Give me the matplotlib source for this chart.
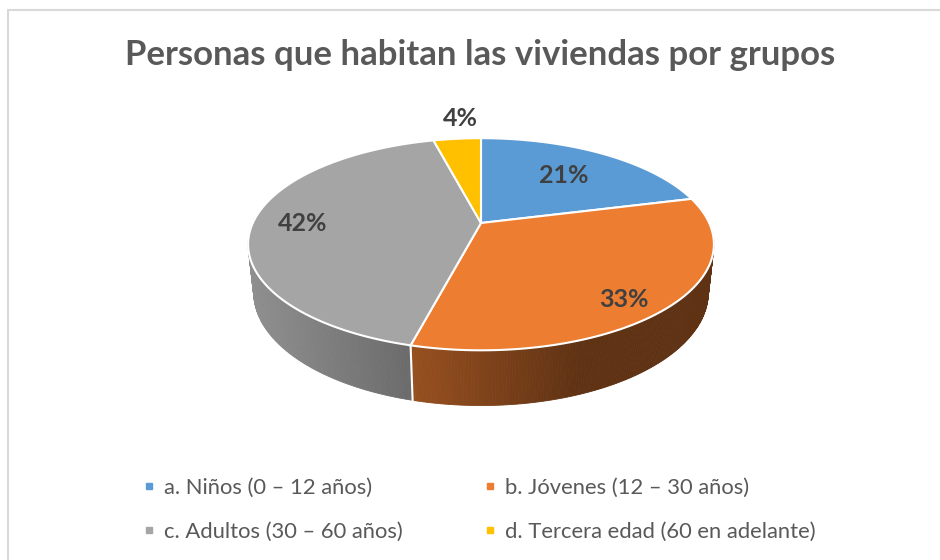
import numpy as np
import matplotlib
matplotlib.use('Agg')
import matplotlib.pyplot as plt
from matplotlib.patches import Polygon, Rectangle
from matplotlib.lines import Line2D

plt.rcParams['font.family'] = ['Lato', 'DejaVu Sans']

# data
labels = ['a. Niños (0 – 12 años)', 'b. Jóvenes (12 – 30 años)',
          'c. Adultos (30 – 60 años)', 'd. Tercera edad (60 en adelante)']
values = [21, 33, 42, 4]
colors = ['#5B9BD5', '#ED7D31', '#A5A5A5', '#FFC000']
title = 'Personas que habitan las viviendas por grupos'

# 3d look: camera tilt, distance, pie thickness (radius = 1)
phi = np.radians(26.5)
D = 4.47
h = 0.2375
c, s = np.cos(phi), np.sin(phi)

def project(theta, r=1.0, z=0.0):
    X = r*np.cos(theta)
    Y = r*np.sin(theta)
    depth = D + c*Y - s*z
    return X/depth, (s*Y + c*z)/depth, depth

# side shading per slice (light factor at left, dark factor, fraction of width to reach dark)
shade = [(0.70, 0.50, 1.0), (0.64, 0.40, 0.56), (0.87, 0.65, 1.0), (0.70, 0.50, 1.0)]
# label placement: radius and angle shift (deg) from the slice middle
lbl_r = [0.65, 0.85, 0.78, 1.3]
lbl_da = [0, -5, 0, -2.2]

frac = np.array(values)/np.sum(values)
bounds = np.radians(90 - 360*np.concatenate([[0], np.cumsum(frac)]))

fig = plt.figure(figsize=(9.4, 5.6), dpi=100)
ax = fig.add_axes([0, 0, 1, 1])
k = 1020.0
ax.set_xlim(-481/k, 459/k)
ax.set_ylim(-337/k, 223/k)
ax.axis('off')

# side walls, far strips first
strips = []
for i in range(len(values)):
    th = np.linspace(bounds[i], bounds[i+1], 200)
    th = th[np.sin(th) < 0.15]
    if len(th) < 2:
        continue
    xs = project(th)[0]
    x0, x1 = xs.min(), xs.max()
    base = np.array(matplotlib.colors.to_rgb(colors[i]))
    f0, f1, span = shade[i]
    for a, b in zip(th[:-1], th[1:]):
        xa, ya, da = project(a)
        xb, yb, db = project(b)
        xa2, ya2, _ = project(a, z=-h)
        xb2, yb2, _ = project(b, z=-h)
        t = min(1.0, ((xa + xb)/2 - x0)/(x1 - x0)/span)
        col = np.clip(base*(f0 + (f1 - f0)*t), 0, 1)
        strips.append(((da + db)/2, [(xa, ya), (xb, yb), (xb2, yb2), (xa2, ya2)], col))
strips.sort(key=lambda q: -q[0])
for d, pts, col in strips:
    ax.add_patch(Polygon(pts, closed=True, facecolor=col, edgecolor=col, lw=0.6))

# white seams on the side
for b in bounds[1:-1]:
    if np.sin(b) < 0:
        xt, yt, _ = project(b)
        xb, yb, _ = project(b, z=-h)
        ax.plot([xt, xb], [yt, yb], color='white', lw=1.5)

# top face
for i in range(len(values)):
    th = np.linspace(bounds[i], bounds[i+1], 200)
    px, py, _ = project(th)
    pts = [(0, 0)] + list(zip(px, py))
    ax.add_patch(Polygon(pts, closed=True, facecolor=colors[i], edgecolor='white', lw=1.5))

# percentage labels
for i in range(len(values)):
    mid = (bounds[i] + bounds[i+1])/2 + np.radians(lbl_da[i])
    lx, ly, _ = project(mid, r=lbl_r[i])
    ax.text(lx, ly, '%d%%' % values[i], ha='center', va='center', fontsize=18,
            fontweight='bold', color='#404040')

fig.text(480/940, 1 - 55/560, title, ha='center', va='center', fontsize=25,
         fontweight='bold', color='#595959')

# legend, filled by column so reorder
order = [0, 2, 1, 3]
handles = [Line2D([], [], ls='', marker='s', ms=5, color=colors[i]) for i in order]
fig.legend(handles, [labels[i] for i in order], ncol=2, loc='upper left',
           bbox_to_anchor=(144/940, 1 - 478/560), frameon=False, fontsize=15.8,
           handlelength=0.5, handletextpad=0.4, columnspacing=3.75, labelspacing=1.1,
           borderpad=0, borderaxespad=0, labelcolor='#595959')

# chart frame
fig.patches.append(Rectangle((8/940, -0.1), 1.2, 1.1 - 10/560, transform=fig.transFigure,
                             fill=False, edgecolor='#d9d9d9', lw=1.5))

fig.savefig('out.png', dpi=100)
